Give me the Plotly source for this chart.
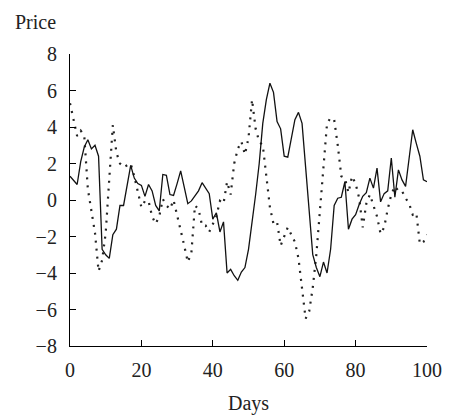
import plotly.graph_objects as go

days = list(range(0, 101))

solid_price = [
    1.3, 1.1, 0.85, 2.1, 2.9, 3.3, 2.8, 3.0, 2.4, -2.7,
    -3.0, -3.2, -1.9, -1.6, -0.3, -0.3, 0.8, 1.9, 1.2, 0.9,
    0.8, 0.2, 0.85, 0.5, -0.3, -0.6, 1.4, 1.35, 0.3, 0.25,
    0.9, 1.6, 0.7, -0.2, -0.05, 0.2, 0.5, 0.95, 0.65, 0.35,
    -1.05, -0.7, -1.75, -1.2, -4.0, -3.8, -4.15, -4.4, -3.95, -3.7,
    -2.7, -1.3, 0.3, 2.0, 4.2, 5.5, 6.4, 5.9, 4.3, 3.9,
    2.4, 2.35, 3.3, 4.4, 4.8, 4.2, 1.8, -0.7, -3.0, -3.7,
    -4.2, -3.4, -4.0, -2.7, -0.3, 0.1, 0.15, 1.0, -1.6, -1.05,
    -0.8, -0.25, 0.2, 0.4, 1.2, 0.65, 1.75, -0.1, 0.35, 0.5,
    2.3, 0.15, 1.65, 1.1, 0.75, 2.3, 3.85, 3.1, 2.4, 1.1,
    1.0,
]

dotted_price = [
    5.3, 4.4, 3.5, 3.8, 3.5, 0.6, -0.7, -1.8, -3.9, -3.3,
    -1.8, 1.3, 4.1, 2.6, 2.0, 1.8, 1.9, 2.0, 1.3, 0.5,
    -0.4, -0.05, -0.05, -0.9, -1.3, -0.9, 0.05, -0.3, -0.5, 0.0,
    -0.8, -1.7, -2.5, -3.4, -2.9, -0.3, -0.5, -1.4, -1.4, -1.75,
    -1.3, -0.9, -0.05, -0.2, 1.0, 0.3, 2.0, 2.8, 3.2, 2.5,
    3.4, 5.5, 3.9, 3.2, 3.0, 1.3, -0.4, -1.3, -1.2, -2.5,
    -2.0, -1.5, -1.9, -2.3, -3.2, -4.8, -6.5, -6.1, -4.8, -3.0,
    -0.6, 1.8, 4.2, 4.5, 4.4, 3.0, 1.3, 1.2, 0.4, 1.3,
    0.9, 0.1, -1.5, -0.2, 0.3, -0.3, -0.9, -1.85, -1.5, -0.5,
    0.3, 0.75, 0.5, 0.5, 0.1, -0.2, -0.8, -0.7, -2.4, -2.3,
    -1.9,
]

x_ticks = [0, 20, 40, 60, 80, 100]
y_ticks = [-8, -6, -4, -2, 0, 2, 4, 6, 8]

FONT = "Liberation Serif"
FS = 20

fig = go.Figure()
fig.add_trace(go.Scatter(
    x=days, y=dotted_price, mode="lines",
    line=dict(color="#222222", width=2.2, dash="2px,6px"),
    showlegend=False, hoverinfo="skip",
))
fig.add_trace(go.Scatter(
    x=days, y=solid_price, mode="lines",
    line=dict(color="#111111", width=1.3),
    showlegend=False, hoverinfo="skip",
))

axis_common = dict(
    showgrid=False, zeroline=False, showline=True,
    linecolor="black", linewidth=1.2,
    ticks="inside", ticklen=6, tickwidth=1.2, tickcolor="black",
    tickfont=dict(family=FONT, size=FS, color="#222222"),
)

fig.update_xaxes(range=[0, 100], tickvals=x_ticks, ticklabelstandoff=6,
                 **axis_common)
fig.update_yaxes(range=[-8, 8], tickvals=y_ticks, ticklabelstandoff=8,
                 **axis_common)

fig.add_annotation(text="Price", xref="paper", yref="paper", x=0, y=1,
                   xanchor="right", yanchor="top", xshift=-12, yshift=45,
                   showarrow=False, font=dict(family=FONT, size=FS, color="#222222"))
fig.add_annotation(text="Days", xref="paper", yref="paper", x=0.5, y=0,
                   xanchor="center", yanchor="middle", yshift=-57,
                   showarrow=False, font=dict(family=FONT, size=FS, color="#222222"))

# page body has an 8px margin, so the figure is sized to fit inside the window
fig.update_layout(
    width=446, height=409,
    margin=dict(l=62, r=15, t=46, b=71),
    paper_bgcolor="white", plot_bgcolor="white",
)

fig.write_html("out.html")
